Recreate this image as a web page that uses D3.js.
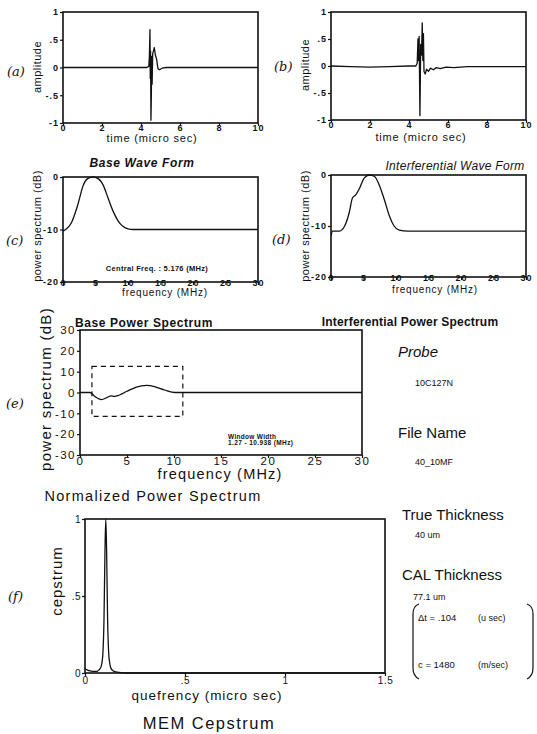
<!DOCTYPE html>
<html>
<head>
<meta charset="utf-8">
<script src="https://cdn.jsdelivr.net/npm/d3@7"></script>
<style>
    body { margin: 0; background: #fff; }
    svg { display: block; font-family: "Liberation Sans", Arial, sans-serif; }
</style>
</head>
<body>
<svg id="chart" width="537" height="734"></svg>
<script>
// (a) base wave form
const baseTime = [0, 1, 2, 3, 4, 4.3, 4.4, 4.43, 4.46, 4.475, 4.49, 4.51, 4.53, 4.55, 4.57, 4.6, 4.64, 4.68, 4.74, 4.8, 4.87, 4.95, 5.1, 5.3, 6, 8, 10];
const baseAmp = [0, 0, 0, 0, 0, 0, 0.02, 0.2, 0.68, -0.2, 0.3, -0.95, -0.5, 0.2, -0.3, 0.25, 0.3, 0.36, 0.22, 0.15, -0.02, -0.04, -0.01, 0, 0, 0, 0];

// (b) interferential wave form
const interTime = [0, 1, 2, 3, 4, 4.35, 4.42, 4.46, 4.49, 4.52, 4.56, 4.6, 4.64, 4.68, 4.71, 4.74, 4.77, 4.83, 4.9, 5.0, 5.1, 5.25, 5.4, 5.6, 5.9, 6.3, 7, 10];
const interAmp = [0, -0.01, -0.02, -0.01, 0, 0, 0.05, 0.5, 0.1, 0.55, -0.92, 0.4, 0.2, 0.8, 0.1, 0.6, -0.1, -0.15, -0.06, -0.1, -0.04, -0.07, -0.03, -0.05, -0.02, -0.03, -0.01, -0.01];

// (c) base power spectrum
const baseFreq = [0, 0.4, 1.3, 2.3, 3.1, 3.8, 4.6, 5.4, 6.2, 6.9, 7.7, 8.5, 9.2, 10, 10.8, 15, 20, 25, 30];
const baseDb = [-10.3, -10, -8.7, -5.2, -1.6, -0.3, 0, -0.3, -1.6, -3.9, -6.5, -8.4, -9.4, -9.9, -10, -10, -10, -10, -10];

// (d) interferential power spectrum
const interFreq = [0, 0.25, 1.3, 2.1, 2.8, 3.3, 3.8, 4.4, 5.1, 5.9, 6.7, 7.4, 8.2, 9, 9.7, 10.5, 11.8, 15, 20, 25, 30];
const interDb = [-11.9, -11, -11, -10, -7.4, -4.5, -3.9, -2.6, -0.6, 0, -0.3, -1.9, -4.8, -8.1, -10, -10.8, -11, -11, -11, -11, -11];

// (e) normalized power spectrum
const normFreq = [0, 0.5, 1.06, 1.6, 2.3, 2.9, 3.3, 3.65, 4.2, 5, 6, 7.1, 8, 9, 10.1, 11, 15, 20, 25, 30];
const normDb = [0, 0, 0, -2, -3.4, -2.3, -1.6, -1.9, -1.2, 0.6, 2.6, 3.4, 2.7, 1.2, 0, 0, 0, 0, 0, 0];
const windowRange = [1.27, 10.938];
const windowDb = [-11.5, 12.5];

// (f) MEM cepstrum
const quefrency = [0, 0.01, 0.02, 0.04, 0.06, 0.07, 0.08, 0.085, 0.09, 0.095, 0.1, 0.104, 0.108, 0.113, 0.118, 0.123, 0.13, 0.14, 0.16, 0.2, 0.5, 1, 1.5];
const cepstrum = [0.03, 0.02, 0.015, 0.01, 0.01, 0.02, 0.04, 0.07, 0.14, 0.35, 0.8, 1.0, 0.8, 0.35, 0.14, 0.07, 0.03, 0.015, 0.005, 0, 0, 0, 0];

// ticks
const timeTicks = [0, 2, 4, 6, 8, 10];
const ampTicks = [-1, -0.5, 0, 0.5, 1];
const freqTicks = [0, 5, 10, 15, 20, 25, 30];
const specTicks = [-20, -10, 0];
const normTicks = [-30, -20, -10, 0, 10, 20, 30];
const queTicks = [0, 0.5, 1, 1.5];
const cepTicks = [0, 0.5, 1];

const svg = d3.select('#chart');
const ink = '#111';

function fmt(d) {
    return String(d).replace(/^0\./, '.').replace(/^-0\./, '-.');
}

function drawPanel(p) {
    const g = svg.append('g');
    const x = d3.scaleLinear().domain(p.xDomain).range([p.box.l, p.box.r]);
    const y = d3.scaleLinear().domain(p.yDomain).range([p.box.b, p.box.t]);

    const xa = g.append('g')
        .attr('transform', `translate(0,${p.box.b})`)
        .call(d3.axisBottom(x).tickValues(p.xTicks).tickSize(3).tickSizeOuter(0).tickPadding(p.xPad).tickFormat(fmt));
    const ya = g.append('g')
        .attr('transform', `translate(${p.box.l},0)`)
        .call(d3.axisLeft(y).tickValues(p.yTicks).tickSize(3).tickSizeOuter(0).tickPadding(1).tickFormat(fmt));
    [xa, ya].forEach(a => {
        a.select('.domain').remove();
        a.selectAll('line').attr('stroke', ink).attr('stroke-width', 1.2);
        a.selectAll('text')
            .attr('fill', ink)
            .attr('font-size', p.tickFont)
            .attr('font-weight', p.tickWeight || 'normal')
            .attr('letter-spacing', p.tickSpacing || 0);
    });

    const line = d3.line().x(d => x(d[0])).y(d => y(d[1])).curve(p.curve || d3.curveLinear);
    g.append('path')
        .datum(d3.zip(p.xs, p.ys))
        .attr('d', line)
        .attr('fill', 'none')
        .attr('stroke', ink)
        .attr('stroke-width', 1.3)
        .attr('stroke-linejoin', 'round');

    g.append('rect')
        .attr('x', p.box.l).attr('y', p.box.t)
        .attr('width', p.box.r - p.box.l).attr('height', p.box.b - p.box.t)
        .attr('fill', 'none').attr('stroke', ink).attr('stroke-width', 1.6);

    text(p.xLabel.x, p.xLabel.y, p.xLabel.t, p.xLabel.size, 'middle', p.xLabel.style);
    g.append('text')
        .attr('transform', `translate(${p.yLabel.x},${p.yLabel.y}) rotate(-90)`)
        .attr('text-anchor', 'middle')
        .attr('font-size', p.yLabel.size)
        .attr('letter-spacing', p.yLabel.spacing || 0)
        .attr('fill', ink)
        .text(p.yLabel.t);
    text(p.title.x, p.title.y, p.title.t, p.title.size, 'middle', p.title.style);
    svg.append('text')
        .attr('x', p.tag.x).attr('y', p.tag.y)
        .attr('font-family', '"DejaVu Serif", serif')
        .attr('font-style', 'italic')
        .attr('font-size', 13)
        .attr('fill', ink)
        .text(p.tag.t);
    return { x, y, g };
}

function text(x, y, t, size, anchor, style) {
    const s = style || {};
    return svg.append('text')
        .attr('x', x).attr('y', y)
        .attr('text-anchor', anchor || 'start')
        .attr('font-size', size)
        .attr('font-weight', s.weight || 'normal')
        .attr('font-style', s.italic ? 'italic' : 'normal')
        .attr('letter-spacing', s.spacing || 0)
        .attr('fill', ink)
        .text(t);
}

const smallTick = { tickFont: 9, tickWeight: 'bold', tickSpacing: 1 };

drawPanel(Object.assign({
    box: { l: 63, t: 12, r: 258, b: 123 },
    xDomain: [0, 10], yDomain: [-1, 1], xTicks: timeTicks, yTicks: ampTicks, xPad: -1,
    xs: baseTime, ys: baseAmp,
    xLabel: { x: 152, y: 142, t: 'time (micro sec)', size: 11, style: { spacing: 0.8 } },
    yLabel: { x: 41, y: 67, t: 'amplitude', size: 11, spacing: 0.5 },
    title: { x: 142, y: 167, t: 'Base Wave Form', size: 12, style: { weight: 'bold', italic: true, spacing: 0.6 } },
    tag: { x: 7, y: 76, t: '(a)' }
}, smallTick));

drawPanel(Object.assign({
    box: { l: 331, t: 12, r: 526, b: 120 },
    xDomain: [0, 10], yDomain: [-1, 1], xTicks: timeTicks, yTicks: ampTicks, xPad: -1,
    xs: interTime, ys: interAmp,
    xLabel: { x: 421, y: 141, t: 'time (micro sec)', size: 11, style: { spacing: 0.8 } },
    yLabel: { x: 309, y: 65, t: 'amplitude', size: 11, spacing: 0.5 },
    title: { x: 455, y: 170, t: 'Interferential Wave Form', size: 12, style: { italic: true, spacing: 0.3 } },
    tag: { x: 274, y: 71, t: '(b)' }
}, smallTick));

drawPanel(Object.assign({
    box: { l: 63, t: 177, r: 258, b: 282 },
    xDomain: [0, 30], yDomain: [-20, 0], xTicks: freqTicks, yTicks: specTicks, xPad: -5,
    xs: baseFreq, ys: baseDb, curve: d3.curveMonotoneX,
    xLabel: { x: 165, y: 296, t: 'frequency (MHz)', size: 10, style: { spacing: 0.8 } },
    yLabel: { x: 41, y: 226, t: 'power spectrum (dB)', size: 11, spacing: 0.5 },
    title: { x: 144, y: 327, t: 'Base Power Spectrum', size: 12, style: { weight: 'bold', spacing: 0.6 } },
    tag: { x: 6, y: 245, t: '(c)' }
}, smallTick));
text(157, 271, 'Central Freq. : 5.176 (MHz)', 7.5, 'middle', { weight: 'bold', spacing: 0.3 });

drawPanel(Object.assign({
    box: { l: 331, t: 175, r: 526, b: 277 },
    xDomain: [0, 30], yDomain: [-20, 0], xTicks: freqTicks, yTicks: specTicks, xPad: -5,
    xs: interFreq, ys: interDb, curve: d3.curveMonotoneX,
    xLabel: { x: 435, y: 293, t: 'frequency (MHz)', size: 10, style: { spacing: 0.8 } },
    yLabel: { x: 309, y: 226, t: 'power spectrum (dB)', size: 11, spacing: 0.5 },
    title: { x: 410, y: 326, t: 'Interferential Power Spectrum', size: 12, style: { weight: 'bold', spacing: 0.2 } },
    tag: { x: 272, y: 244, t: '(d)' }
}, smallTick));

const pe = drawPanel({
    box: { l: 80, t: 330, r: 362, b: 455 },
    xDomain: [0, 30], yDomain: [-30, 30], xTicks: freqTicks, yTicks: normTicks, xPad: -1,
    tickFont: 11.5, tickSpacing: 1.5,
    xs: normFreq, ys: normDb, curve: d3.curveMonotoneX,
    xLabel: { x: 220, y: 479, t: 'frequency (MHz)', size: 14.5, style: { spacing: 1.2 } },
    yLabel: { x: 51, y: 389, t: 'power spectrum (dB)', size: 15, spacing: 1.3 },
    title: { x: 153, y: 501, t: 'Normalized Power Spectrum', size: 14.5, style: { spacing: 1.3 } },
    tag: { x: 6, y: 408, t: '(e)' }
});
pe.g.append('rect')
    .attr('x', pe.x(windowRange[0])).attr('y', pe.y(windowDb[1]))
    .attr('width', pe.x(windowRange[1]) - pe.x(windowRange[0]))
    .attr('height', pe.y(windowDb[0]) - pe.y(windowDb[1]))
    .attr('fill', 'none').attr('stroke', ink).attr('stroke-width', 1.2)
    .attr('stroke-dasharray', '5,4');
text(228, 439, 'Window Width', 6.5, 'start', { weight: 'bold', spacing: 0.3 });
text(228, 445, '1.27 - 10.938 (MHz)', 6.5, 'start', { weight: 'bold', spacing: 0.4 });

drawPanel({
    box: { l: 85, t: 519, r: 385, b: 673 },
    xDomain: [0, 1.5], yDomain: [0, 1], xTicks: queTicks, yTicks: cepTicks, xPad: 1,
    tickFont: 10, tickSpacing: 0.5,
    xs: quefrency, ys: cepstrum, curve: d3.curveMonotoneX,
    xLabel: { x: 207, y: 700, t: 'quefrency (micro sec)', size: 13.5, style: { spacing: 1 } },
    yLabel: { x: 62, y: 581, t: 'cepstrum', size: 15, spacing: 1 },
    title: { x: 209, y: 729, t: 'MEM Cepstrum', size: 16.5, style: { spacing: 1.5 } },
    tag: { x: 8, y: 601, t: '(f)' }
});

// info column
text(398, 357, 'Probe', 15, 'start', { italic: true });
text(415, 386, '10C127N', 9);
text(398, 438, 'File Name', 15);
text(415, 465, '40_10MF', 9);
text(402, 520, 'True Thickness', 15);
text(415, 538, '40 um', 9);
text(402, 580, 'CAL Thickness', 15);
text(413, 600, '77.1 um', 9);
text(418, 621, '\u0394t = .104', 9.5);
text(478, 621, '(u sec)', 9);
text(418, 668, 'c = 1480', 9.5);
text(478, 668, '(m/sec)', 9);

svg.append('path')
    .attr('d', 'M419,604 Q413,606 413,614 L413,668 Q413,676 419,679')
    .attr('fill', 'none').attr('stroke', ink).attr('stroke-width', 1.2);
svg.append('path')
    .attr('d', 'M527,604 Q533,606 533,614 L533,668 Q533,676 527,679')
    .attr('fill', 'none').attr('stroke', ink).attr('stroke-width', 1.2);
</script>
</body>
</html>
